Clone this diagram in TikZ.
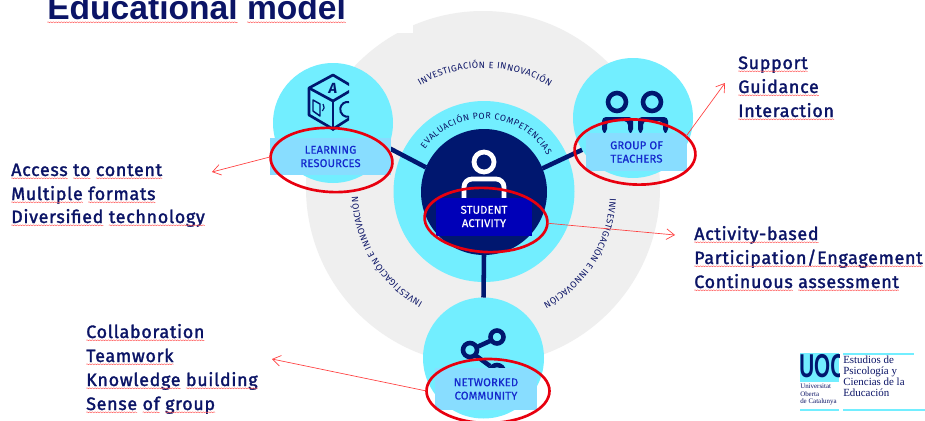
\documentclass[tikz,border=0pt]{standalone}
\usepackage{fontspec}
\setmainfont{Fira Sans}
\newfontfamily\titlefont{Liberation Sans}
\newfontfamily\logofont{Liberation Serif}
\newfontfamily\listfont[FakeBold=1.7,LetterSpace=4]{Fira Sans}
\newfontfamily\labfont[FakeBold=.6,LetterSpace=1.5]{Fira Sans}
\usetikzlibrary{shapes.geometric,arrows.meta,decorations.pathmorphing,decorations.text}
\definecolor{navy}{HTML}{0B1466}
\definecolor{deep}{HTML}{00176F}
\definecolor{cyanb}{HTML}{72EEFF}
\definecolor{boxb}{HTML}{88DDFF}
\definecolor{boxd}{HTML}{0000B8}
\definecolor{lab}{HTML}{1428CC}
\definecolor{ring}{HTML}{EFEFEF}
\definecolor{redo}{HTML}{E8000F}
\newlength\wvlen
\newcommand\wv[1]{\settowidth\wvlen{#1}\mbox{\rlap{#1}\tikz[baseline=0pt]{\useasboundingbox (0pt,0pt) rectangle (\wvlen,0pt);\draw[wavy] (0pt,-1.7pt) -- (\wvlen,-1.7pt);}}}
\newcommand\arcfont{\fontsize{6.8}{8}\selectfont\color{navy}}
\newcommand\evalfont{\fontsize{6.6}{8}\selectfont\color{navy}}
\tikzset{
  wavy/.style={draw=red!65,line width=.35pt,decorate,decoration={snake,amplitude=.35pt,segment length=2pt}},
  disc/.style={circle,fill=cyanb,draw=none,inner sep=0pt,outer sep=0pt,minimum size=#1*.75pt},
  listline/.style={anchor=base west,inner sep=0pt,text=navy,font=\listfont\fontsize{13.4}{16}\selectfont},
  labelbox/.style={rectangle,fill=boxb,text=lab,inner sep=0pt,align=center,font=\labfont\fontsize{8.4}{10}\selectfont},
  conn/.style={draw=deep,line width=3.4pt},
  redring/.style={ellipse,draw=redo,line width=2pt,inner sep=0pt,outer sep=0pt,fill=none},
  pointer/.style={draw=red!75,line width=.5pt,-{Straight Barb[length=6pt,width=8pt]}},
  icon/.style={draw=deep,line width=3.4pt,fill=none},
  iconthin/.style={draw=deep,line width=2pt,fill=none,line join=round},
  arctext/.style={decorate,decoration={text along path,text={|\arcfont|#1},text align=fit to path}},
  evaltext/.style={decorate,decoration={text along path,text={|\evalfont|#1},text align=fit to path}},
}
\begin{document}
\begin{tikzpicture}[x=.75pt,y=.75pt]
\useasboundingbox (0,-421) rectangle (925,0);
\clip (0,-421) rectangle (925,0);
\fill[white] (0,-421) rectangle (925,0);
% grey disc
\fill[ring] (483,-188) circle[radius=177];
\fill[white] (340,0) rectangle (413,-33);
% central discs
\node[disc=181] (core) at (484,-191.5) {};
\node[disc=126,fill=deep] (sa) at (484,-192) {};
\node[disc=120] (lr) at (333,-123) {};
\node[disc=120] (tg) at (633,-118) {};
\node[disc=121] (nc) at (483.5,-358) {};
% connectors
\draw[conn] (sa.157) -- (lr.-24);
\draw[conn] (sa.22) -- (tg.212);
\draw[conn] (sa.south) -- (nc.north);
% label boxes drawn before the arc texts
\node[labelbox,minimum width=121*.75pt,minimum height=37*.75pt] (lrlab) at (330.5,-156.5) {LEARNING\\RESOURCES};
\node[labelbox,minimum width=101*.75pt,minimum height=38*.75pt] (tglab) at (636.5,-152) {GROUP OF\\TEACHERS};
% arc texts
\path[arctext={INVESTIGACIÓN E INNOVACIÓN}] (484,-192) ++(121:124) arc[start angle=121,end angle=58,radius=124];
\path[arctext={INVESTIGACIÓN E INNOVACIÓN}] (484,-192) ++(-3:126) arc[start angle=-3,end angle=-62,radius=126];
\path[arctext={INVESTIGACIÓN E INNOVACIÓN}] (484,-192) ++(241:126) arc[start angle=241,end angle=182,radius=126];
\path[evaltext={EVALUACIÓN POR COMPETENCIAS}] (484,-192) ++(144:73) arc[start angle=144,end angle=30,radius=73];
% user icon
\draw[white,line width=3.6pt] (484,-162) circle[radius=10];
\draw[white,line width=3.6pt,rounded corners=6pt] (464,-200) -- (464,-179) -- (504,-179) -- (504,-200);
% cube icon
\begin{scope}
\clip (300,-70) rectangle (349,-135);
\draw[iconthin] (333,-75) -- (355,-88) -- (355,-115) -- (333,-129) -- (309,-115) -- (309,-88) -- cycle;
\draw[iconthin] (309,-88) -- (333,-101) -- (355,-88);
\draw[iconthin] (333,-101) -- (333,-129);
\node[inner sep=0pt,text=deep,font=\fontsize{11}{11}\selectfont\bfseries\itshape] (cubea) at (333,-88) {A};
\draw[iconthin,line width=1.5pt] (349,-102) arc[start angle=80,end angle=280,radius=7.5];
\draw[iconthin,line width=1.1pt] (313,-100) -- (320,-104) -- (320,-116) -- (313,-111) -- cycle;
\draw[iconthin,line width=.9pt] (323,-104) arc[start angle=40,end angle=-50,radius=5];
\end{scope}
\fill[deep] (329,-128) -- (337,-128) -- (333,-131) -- cycle;
% teachers icon
\draw[icon] (617,-102) circle[radius=9];
\draw[icon] (652,-102) circle[radius=9];
\fill[deep,rounded corners=3pt] (602,-133) -- (602,-117) -- (633,-117) -- (633,-133) -- (628,-133) -- (628,-121) -- (607,-121) -- (607,-133) -- cycle;
\fill[deep,rounded corners=3pt] (638,-133) -- (638,-117) -- (668,-117) -- (668,-133) -- (663,-133) -- (663,-121) -- (643,-121) -- (643,-133) -- cycle;
\fill[boxb] (586,-133) rectangle (687,-140);
% network icon
\draw[icon] (497,-337) circle[radius=6.5];
\draw[icon] (470,-350) circle[radius=7];
\draw[icon] (490,-341) -- (477,-347);
\draw[icon] (475,-355) -- (490,-366);
\draw[icon] (490,-372) arc[start angle=180,end angle=0,radius=7];
% remaining label boxes
\node[labelbox,fill=boxd,text=white,minimum width=96*.75pt,minimum height=38*.75pt] (salab) at (484,-216.5) {STUDENT\\ACTIVITY};
\node[labelbox,minimum width=102*.75pt,minimum height=42*.75pt] (nclab) at (486,-389) {NETWORKED\\COMMUNITY};
% red ellipses
\node[redring,minimum width=122*.75pt,minimum height=64*.75pt,rotate=-3] (elr) at (331.5,-160) {};
\node[redring,minimum width=121*.75pt,minimum height=65*.75pt,rotate=-3] (etg) at (635,-152) {};
\node[redring,minimum width=123*.75pt,minimum height=64*.75pt,rotate=-3] (esa) at (486,-220) {};
\node[redring,minimum width=123*.75pt,minimum height=64*.75pt] (enc) at (488,-391) {};
% pointers
\coordinate (plr) at (212,-172);
\coordinate (ptg) at (725,-83);
\coordinate (psa) at (675,-235);
\coordinate (pnc) at (272,-359);
\draw[pointer] (elr.west) -- (plr);
\draw[pointer] (etg.20) -- (ptg);
\draw[pointer] (esa.east) -- (psa);
\draw[pointer] (enc.west) -- (pnc);
% title
\node[anchor=base west,inner sep=0pt,text=navy,font=\titlefont\fontsize{25.2}{30}\selectfont\bfseries] (title) at (47,-20) {\wv{Educational} \wv{model}};
% lists
\node[listline] (a1) at (11,-176) {\wv{Access} \wv{to} \wv{content}};
\node[listline] (a2) at (11,-200) {\wv{Multiple} \wv{formats}};
\node[listline] (a3) at (11,-223) {\wv{Diversified} \wv{technology}};
\node[listline] (b1) at (738,-69) {\wv{Support}};
\node[listline] (b2) at (738,-93) {\wv{Guidance}};
\node[listline] (b3) at (738,-117) {\wv{Interaction}};
\node[listline] (c1) at (694,-240) {\wv{Activity-based}};
\node[listline] (c2) at (694,-264) {\wv{Participation/Engagement}};
\node[listline] (c3) at (694,-288) {\wv{Continuous} \wv{assessment}};
\node[listline] (d1) at (86,-338) {\wv{Collaboration}};
\node[listline] (d2) at (86,-362) {\wv{Teamwork}};
\node[listline] (d3) at (86,-386) {\wv{Knowledge} \wv{building}};
\node[listline] (d4) at (86,-410) {\wv{Sense} \wv{of} \wv{group}};
% logo
\fill[cyanb] (800,-353) rectangle (839,-382);
\begin{scope}
\clip (800,-353) rectangle (839,-382);
\node[anchor=base west,inner sep=0pt,text=deep,font=\titlefont\fontsize{15.5}{16}\selectfont\bfseries,yscale=1.6,transform shape] (uoc) at (799,-377) {UOC};
\end{scope}
\node[anchor=north west,inner sep=0pt,text=navy,align=left,font=\logofont\fontsize{5.2}{5.4}\selectfont] (uni) at (800,-384) {Universitat\\Oberta\\de Catalunya};
\node[anchor=north west,inner sep=0pt,text=navy,align=left,font=\logofont\fontsize{8.2}{8.2}\selectfont] (est) at (843,-356) {Estudios de\\Psicología y\\Ciencias de la\\Educación};
\fill[cyanb] (843,-353) rectangle (914,-355);
\fill[cyanb] (800,-409) rectangle (839,-411);
\fill[cyanb] (843,-409) rectangle (925,-411);
\end{tikzpicture}
\end{document}
